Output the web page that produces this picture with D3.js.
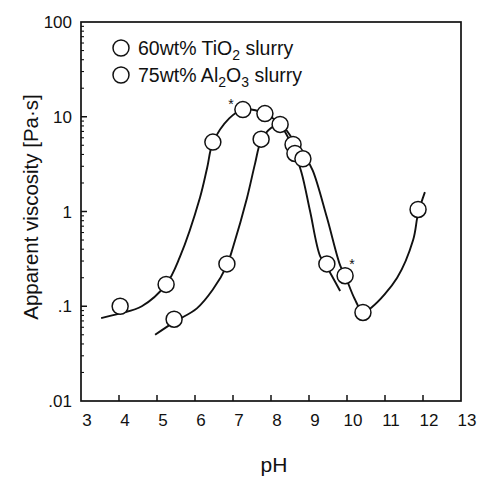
<!DOCTYPE html>
<html><head><meta charset="utf-8">
<script src="https://cdn.jsdelivr.net/npm/d3@7"></script>
<style>body{margin:0;background:#fff}svg{display:block}text{font-family:"Liberation Sans",Arial,Helvetica,sans-serif;fill:#111}</style>
</head><body><svg id="c" width="483" height="478"></svg>
<script>
// ---- data ----
const xTicks = [3,4,5,6,7,8,9,10,11,12,13];
const yTicks = [0.01,0.1,1,10,100];
const yTickLabels = [".01",".1","1","10","100"];
// measured points (pH, viscosity Pa·s)
const tioPoints = [[4.03,0.10],[5.24,0.17],[6.47,5.4],[7.26,11.9],[7.84,10.8],[8.24,8.3],[8.58,5.1],[9.47,0.28]];
const alPoints  = [[5.45,0.073],[6.84,0.28],[7.74,5.8],[8.63,4.1],[8.84,3.6],[9.95,0.21],[10.42,0.086],[11.87,1.05]];
// fitted curves
const tioCurve = [[3.53,0.075],[4.03,0.084],[4.6,0.10],[5.24,0.17],[5.6,0.33],[6.13,1.4],[6.32,2.9],[6.47,5.3],[6.9,9.6],[7.26,11.9],[7.84,10.8],[8.24,8.2],[8.55,5.0],[8.8,2.6],[9.03,1.0],[9.29,0.34],[9.47,0.26],[9.82,0.145]];
const alCurve   = [[4.95,0.05],[5.45,0.068],[6.05,0.095],[6.47,0.15],[6.84,0.27],[7.0,0.42],[7.37,1.4],[7.58,3.2],[7.74,5.6],[8.0,7.6],[8.24,8.3],[8.6,5.6],[8.9,3.8],[9.1,2.7],[9.47,0.87],[9.82,0.27],[9.95,0.21],[10.2,0.12],[10.42,0.087],[10.66,0.098],[11.32,0.2],[11.74,0.5],[11.87,0.95],[12.05,1.6]];
const stars = [[6.95,14.5],[10.13,0.30]];

// ---- layout ----
const svg = d3.select("#c");
const L=81, R=461, T=22, B=401;
const x = d3.scaleLinear().domain([3,13]).range([L,R]);
const y = d3.scaleLog().domain([0.01,100]).range([B,T]);

// frame
svg.append("rect").attr("x",L).attr("y",T).attr("width",R-L).attr("height",B-T)
  .attr("fill","none").attr("stroke","#111").attr("stroke-width",1.7);

// x ticks (inward)
const gx = svg.append("g");
gx.selectAll("line").data(xTicks.slice(1,-1)).join("line")
  .attr("x1",d=>x(d)).attr("x2",d=>x(d)).attr("y1",B).attr("y2",B-6)
  .attr("stroke","#111").attr("stroke-width",1.5);
gx.selectAll("text").data(xTicks).join("text")
  .attr("x",d=>x(d)+6).attr("y",B+25).attr("text-anchor","middle")
  .attr("font-size",17).text(d=>d);

// y ticks
const minor = [];
for (let e=-2;e<2;e++) for (let m=2;m<=9;m++) minor.push(m*Math.pow(10,e));
svg.append("g").selectAll("line").data(minor).join("line")
  .attr("x1",L).attr("x2",L+3).attr("y1",d=>y(d)).attr("y2",d=>y(d))
  .attr("stroke","#111").attr("stroke-width",1.1);
svg.append("g").selectAll("line").data(yTicks.slice(1,-1)).join("line")
  .attr("x1",L).attr("x2",L+6).attr("y1",d=>y(d)).attr("y2",d=>y(d))
  .attr("stroke","#111").attr("stroke-width",1.5);
svg.append("g").selectAll("text").data(yTicks).join("text")
  .attr("x",L-9).attr("y",d=>y(d)+6).attr("text-anchor","end")
  .attr("font-size",17).text((d,i)=>yTickLabels[i]);

// axis titles
svg.append("text").attr("x",(L+R)/2+3).attr("y",472).attr("text-anchor","middle")
  .attr("font-size",21).text("pH");
svg.append("text").attr("transform","translate(38,207) rotate(-90)")
  .attr("text-anchor","middle").attr("font-size",20.5).text("Apparent viscosity  [Pa·s]");

// curves
const line = d3.line().x(d=>x(d[0])).y(d=>y(d[1])).curve(d3.curveCatmullRom.alpha(0.5));
[tioCurve, alCurve].forEach(c=>{
  svg.append("path").attr("d",line(c)).attr("fill","none")
    .attr("stroke","#111").attr("stroke-width",1.9);
});

// points
[tioPoints, alPoints].forEach(p=>{
  svg.append("g").selectAll("circle").data(p).join("circle")
    .attr("cx",d=>x(d[0])).attr("cy",d=>y(d[1])).attr("r",8)
    .attr("fill","#fff").attr("stroke","#111").attr("stroke-width",1.5);
});

// stars
svg.append("g").selectAll("text").data(stars).join("text")
  .attr("x",d=>x(d[0])).attr("y",d=>y(d[1])+8).attr("text-anchor","middle")
  .attr("font-size",14).text("*");

// legend
const lg = svg.append("g");
const legY = [48,75];
legY.forEach((ly,i)=>{
  lg.append("circle").attr("cx",121).attr("cy",ly).attr("r",8)
    .attr("fill","#fff").attr("stroke","#111").attr("stroke-width",1.5);
  const t = lg.append("text").attr("x",138).attr("y",ly+7).attr("font-size",19.5);
  if (i===0){
    t.append("tspan").text("60wt% TiO");
    t.append("tspan").attr("dy",5).attr("font-size",14).text("2");
    t.append("tspan").attr("dy",-5).text(" slurry");
  } else {
    t.append("tspan").text("75wt% Al");
    t.append("tspan").attr("dy",5).attr("font-size",14).text("2");
    t.append("tspan").attr("dy",-5).text("O");
    t.append("tspan").attr("dy",5).attr("font-size",14).text("3");
    t.append("tspan").attr("dy",-5).text(" slurry");
  }
});
</script></body></html>
